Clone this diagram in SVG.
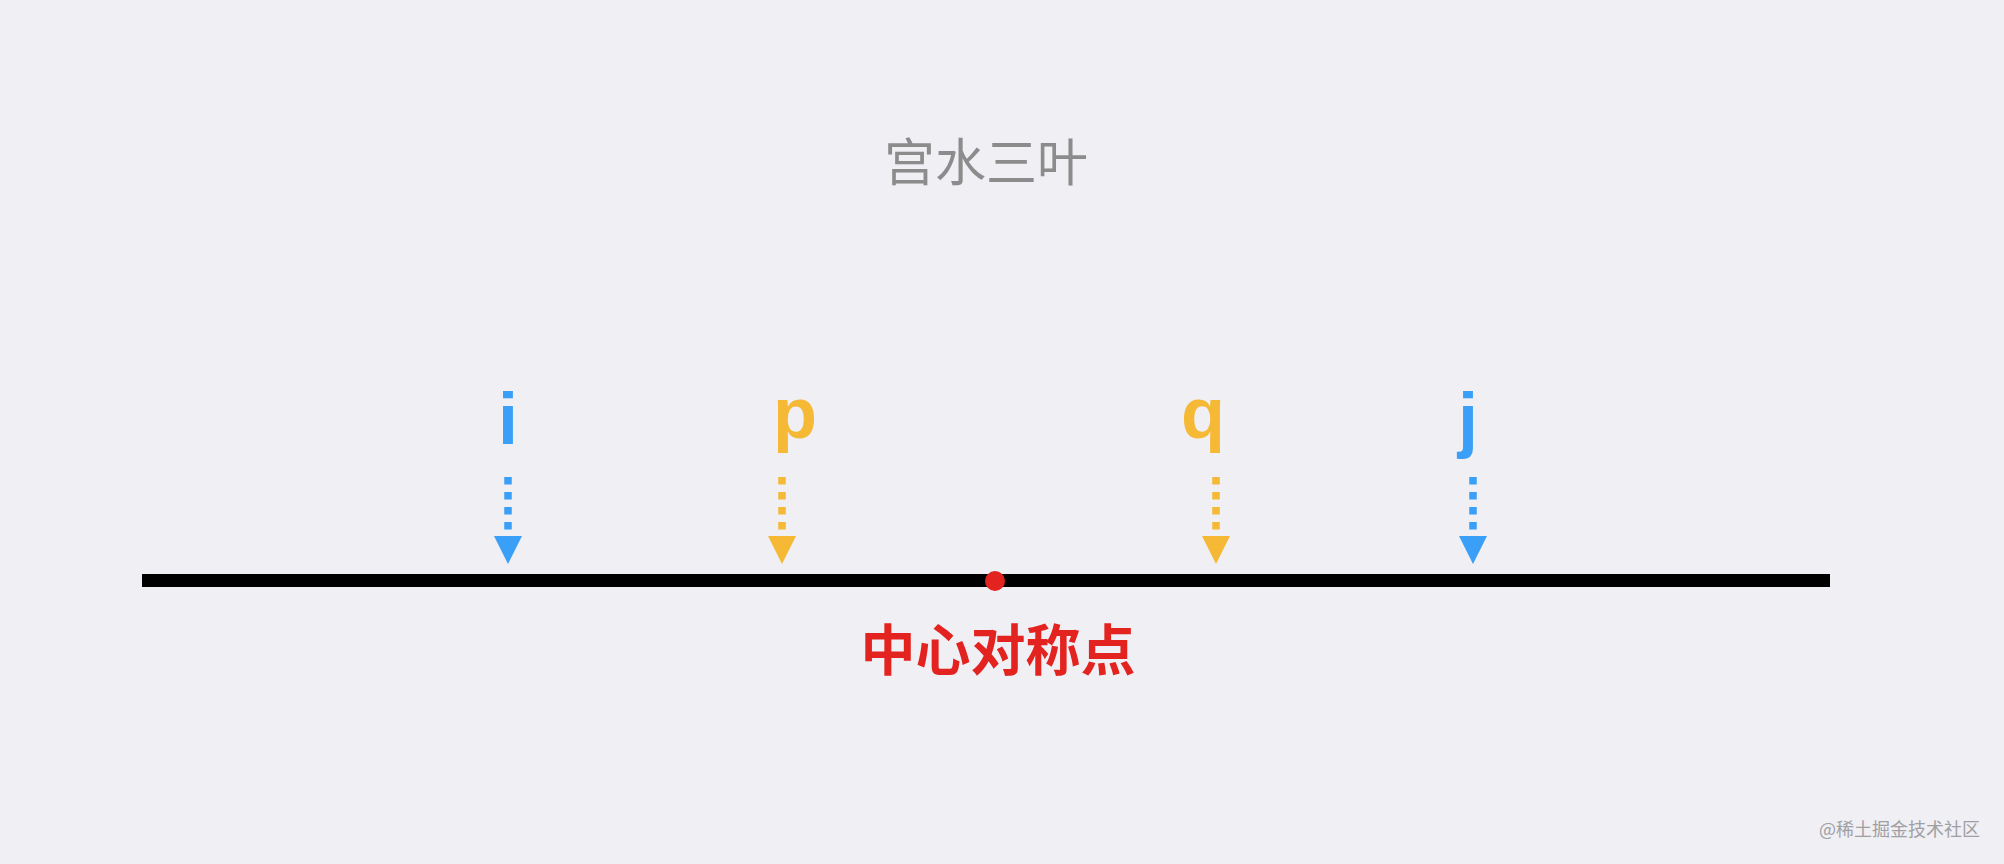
<svg xmlns="http://www.w3.org/2000/svg" width="2004" height="864" viewBox="0 0 2004 864">
  <style>
    .bg { fill: #efeff4; }
    .title { font-family: "Noto Sans CJK SC", "Noto Sans", sans-serif; font-size: 51px; fill: #8c8c8c; text-anchor: middle; }
    .letter { font-family: "Liberation Sans", Arial, sans-serif; font-weight: 700; font-size: 72px; text-anchor: middle; }
    .blue { fill: #3a9ff6; }
    .yellow { fill: #f5b935; }
    .dash { fill: none; stroke-width: 7.5; stroke-dasharray: 7.5 7.5; }
    .dash.blue { stroke: #3a9ff6; fill: none; }
    .dash.yellow { stroke: #f5b935; fill: none; }
    .axis { fill: #000000; }
    .center { fill: #e3231f; }
    .label { font-family: "Noto Sans CJK SC", "Noto Sans", sans-serif; font-weight: 700; font-size: 55px; fill: #e3231f; text-anchor: middle; }
    .wm { font-family: "Noto Sans CJK SC", "Noto Sans", sans-serif; font-size: 18px; fill: #a0a0a4; text-anchor: end; }
  </style>
  <defs>
    <path id="head" d="M -14 0 L 14 0 L 0 28 Z"/>
  </defs>
  <rect class="bg" x="0" y="0" width="2004" height="864"/>
  <text class="title" x="986" y="181">宫水三叶</text>

  <g id="axis">
    <rect class="axis" x="142" y="574" width="1688" height="13"/>
  </g>

  <g id="connectors">
    <line class="dash blue" x1="508" y1="477" x2="508" y2="530"/>
    <use href="#head" class="blue" x="508" y="536"/>
    <line class="dash yellow" x1="782" y1="477" x2="782" y2="530"/>
    <use href="#head" class="yellow" x="782" y="536"/>
    <line class="dash yellow" x1="1216" y1="477" x2="1216" y2="530"/>
    <use href="#head" class="yellow" x="1216" y="536"/>
    <line class="dash blue" x1="1473" y1="477" x2="1473" y2="530"/>
    <use href="#head" class="blue" x="1473" y="536"/>
  </g>

  <g id="node-i"><text class="letter blue" x="508" y="444">i</text></g>
  <g id="node-p"><text class="letter yellow" x="795" y="438">p</text></g>
  <g id="node-q"><text class="letter yellow" x="1203" y="438">q</text></g>
  <g id="node-j"><text class="letter blue" x="1468" y="444">j</text></g>

  <g id="node-center">
    <circle class="center" cx="995" cy="581" r="10"/>
    <text class="label" x="998" y="670">中心对称点</text>
  </g>

  <text class="wm" x="1980" y="836">@稀土掘金技术社区</text>
</svg>
